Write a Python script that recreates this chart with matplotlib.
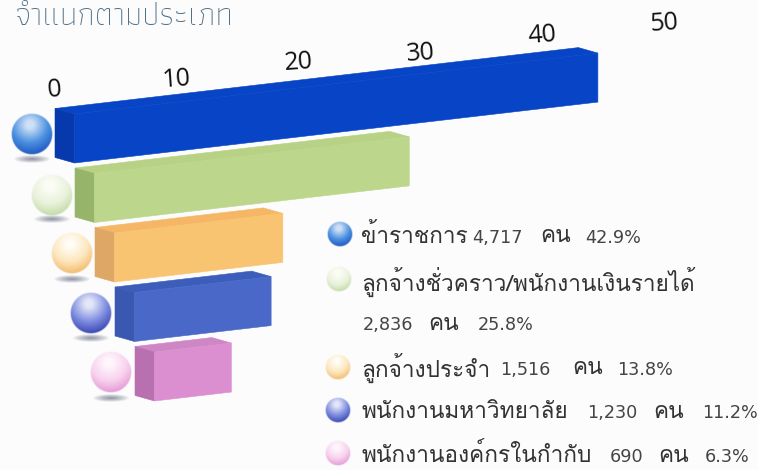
import numpy as np
import matplotlib
matplotlib.use('Agg')
import matplotlib.pyplot as plt
from matplotlib.patches import Polygon
from matplotlib.transforms import Affine2D

# data
title = 'จำแนกตามประเภท'
percent = [42.9, 25.8, 13.8, 11.2, 6.3]
ticks = [0, 10, 20, 30, 40, 50]
tick_nudge = [-2, 2, -1, 4, 0, 3]

# (text, left x, centre y) for the legend pieces
legend_names = [
    ('ข้าราชการ', 361, 236),
    ('ลูกจ้างชั่วคราว/พนักงานเงินรายได้', 361, 282),
    ('ลูกจ้างประจำ', 361, 368),
    ('พนักงานมหาวิทยาลัย', 361, 412),
    ('พนักงานองค์กรในกำกับ', 361, 455),
    ('คน', 540, 237), ('คน', 428, 324), ('คน', 572, 369), ('คน', 653, 412), ('คน', 658, 456),
]
legend_counts = [
    ('4,717', 472, 238), ('42.9%', 585, 238),
    ('2,836', 363, 325), ('25.8%', 478, 325),
    ('1,516', 500, 370), ('13.8%', 617, 370),
    ('1,230', 587, 413), ('11.2%', 702, 413),
    ('690', 610, 457), ('6.3%', 705, 457),
]

# front, side, top colours for each bar
front_col = ['#0844c6', '#bcd68c', '#f8c471', '#4a68c8', '#dc8fd0']
side_col = ['#0839ac', '#97b56a', '#dfa765', '#3a58b0', '#b870b0']
top_col = ['#0844c6', '#b8d285', '#f5b765', '#3d5dba', '#cf86c5']

# highlight, body, edge colours for the spheres
ball_col = [
    ('#cfe0f6', '#4a90e0', '#2058c0'),
    ('#fbfdf6', '#e9f2dc', '#c4dba8'),
    ('#fffdf6', '#fde6bd', '#f3bb6c'),
    ('#e4e7f8', '#7d8ce0', '#3a48b0'),
    ('#fff6fc', '#f8d2ee', '#e59ad6'),
]
ball_xy = [(32, 134), (52, 195), (72, 253), (91, 313), (111, 372)]
shadow_xy = [(32, 159), (52, 219), (72, 279), (91, 338), (111, 398)]
key_xy = [(340, 234), (339, 279), (338, 367), (338, 410), (338, 453)]

BAR_H = 49
DEPTH = (-19.5, -5.5)


def to_rgb(c):
    return np.array(matplotlib.colors.to_rgb(c))


def draw_ball(ax, cx, cy, r, cols):
    n = int(r * 4)
    g = np.linspace(-1, 1, n)
    xx, yy = np.meshgrid(g, g)
    dist = np.hypot(xx, yy)
    # highlight sits up and to the left of the centre
    d = np.clip(np.hypot(xx + 0.1, yy + 0.45) / 1.45, 0, 1)
    hi, mid, lo = [to_rgb(c) for c in cols]
    img = np.zeros((n, n, 4))
    for k in range(3):
        img[..., k] = np.interp(d, [0, 0.12, 0.6, 1], [hi[k], hi[k], mid[k], lo[k]])
    img[..., 3] = np.clip((1 - dist) * r, 0, 1)
    ax.imshow(img, extent=[cx - r, cx + r, cy + r, cy - r], aspect='auto', zorder=3, interpolation='bilinear')


def draw_shadow(ax, cx, cy, w, h):
    g = np.linspace(-1, 1, 40)
    xx, yy = np.meshgrid(g, g)
    img = np.zeros((40, 40, 4))
    img[..., :3] = to_rgb('#8f95a3')
    img[..., 3] = np.clip(1 - np.hypot(xx, yy), 0, 1) ** 0.8
    ax.imshow(img, extent=[cx - w, cx + w, cy + h, cy - h], aspect='auto', zorder=2)


plt.rcParams['font.family'] = ['Loma', 'Sarabun', 'DejaVu Sans']

fig = plt.figure(figsize=(7.58, 4.7), dpi=100, facecolor='#fcfcfd')
ax = fig.add_axes([0, 0, 1, 1])
ax.axis('off')

# value and row -> pixel position on the slanted axis
bar_tf = Affine2D.from_values(12.2, -1.42, 20, 59.5, 74.5, 163)


def project(v, row, dx=0, dy=0):
    x, y = bar_tf.transform((v, row))
    return x + dx, y + dy


for i, v in enumerate(percent):
    fl_b = project(0, i)
    fr_b = project(v, i)
    fl_t = project(0, i, 0, -BAR_H)
    fr_t = project(v, i, 0, -BAR_H)
    bl_b = project(0, i, DEPTH[0], DEPTH[1])
    bl_t = project(0, i, DEPTH[0], DEPTH[1] - BAR_H)
    br_t = project(v, i, DEPTH[0], DEPTH[1] - BAR_H)
    ax.add_patch(Polygon([bl_t, br_t, fr_t, fl_t], fc=top_col[i], ec=top_col[i], lw=0.4, zorder=1))
    ax.add_patch(Polygon([bl_b, bl_t, fl_t, fl_b], fc=side_col[i], ec=side_col[i], lw=0.4, zorder=1))
    ax.add_patch(Polygon([fl_b, fl_t, fr_t, fr_b], fc=front_col[i], ec=front_col[i], lw=0.4, zorder=1))
    draw_ball(ax, ball_xy[i][0], ball_xy[i][1], 21, ball_col[i])
    draw_shadow(ax, shadow_xy[i][0], shadow_xy[i][1], 19, 4)
    draw_ball(ax, key_xy[i][0], key_xy[i][1], 13, ball_col[i])

for t, nudge in zip(ticks, tick_nudge):
    x, y = project(t, 0, -20, -71 + nudge)
    ax.text(x, y, str(t), fontsize=18, color='#111111', ha='center', va='center', rotation=4, family='Open Sans')

ax.text(15, 25, title, fontsize=23, color='#4f7088', ha='left', va='baseline', family=['Athiti', 'DejaVu Sans'], weight='light')

for txt, x, y in legend_names:
    ax.text(x, y, txt, fontsize=16.3, color='#333333', ha='left', va='center')
for txt, x, y in legend_counts:
    ax.text(x, y, txt, fontsize=12.7, color='#444444', ha='left', va='center', family='DejaVu Sans')

ax.set_xlim(0, 758)
ax.set_ylim(470, 0)
fig.savefig('out.png', facecolor=fig.get_facecolor())
